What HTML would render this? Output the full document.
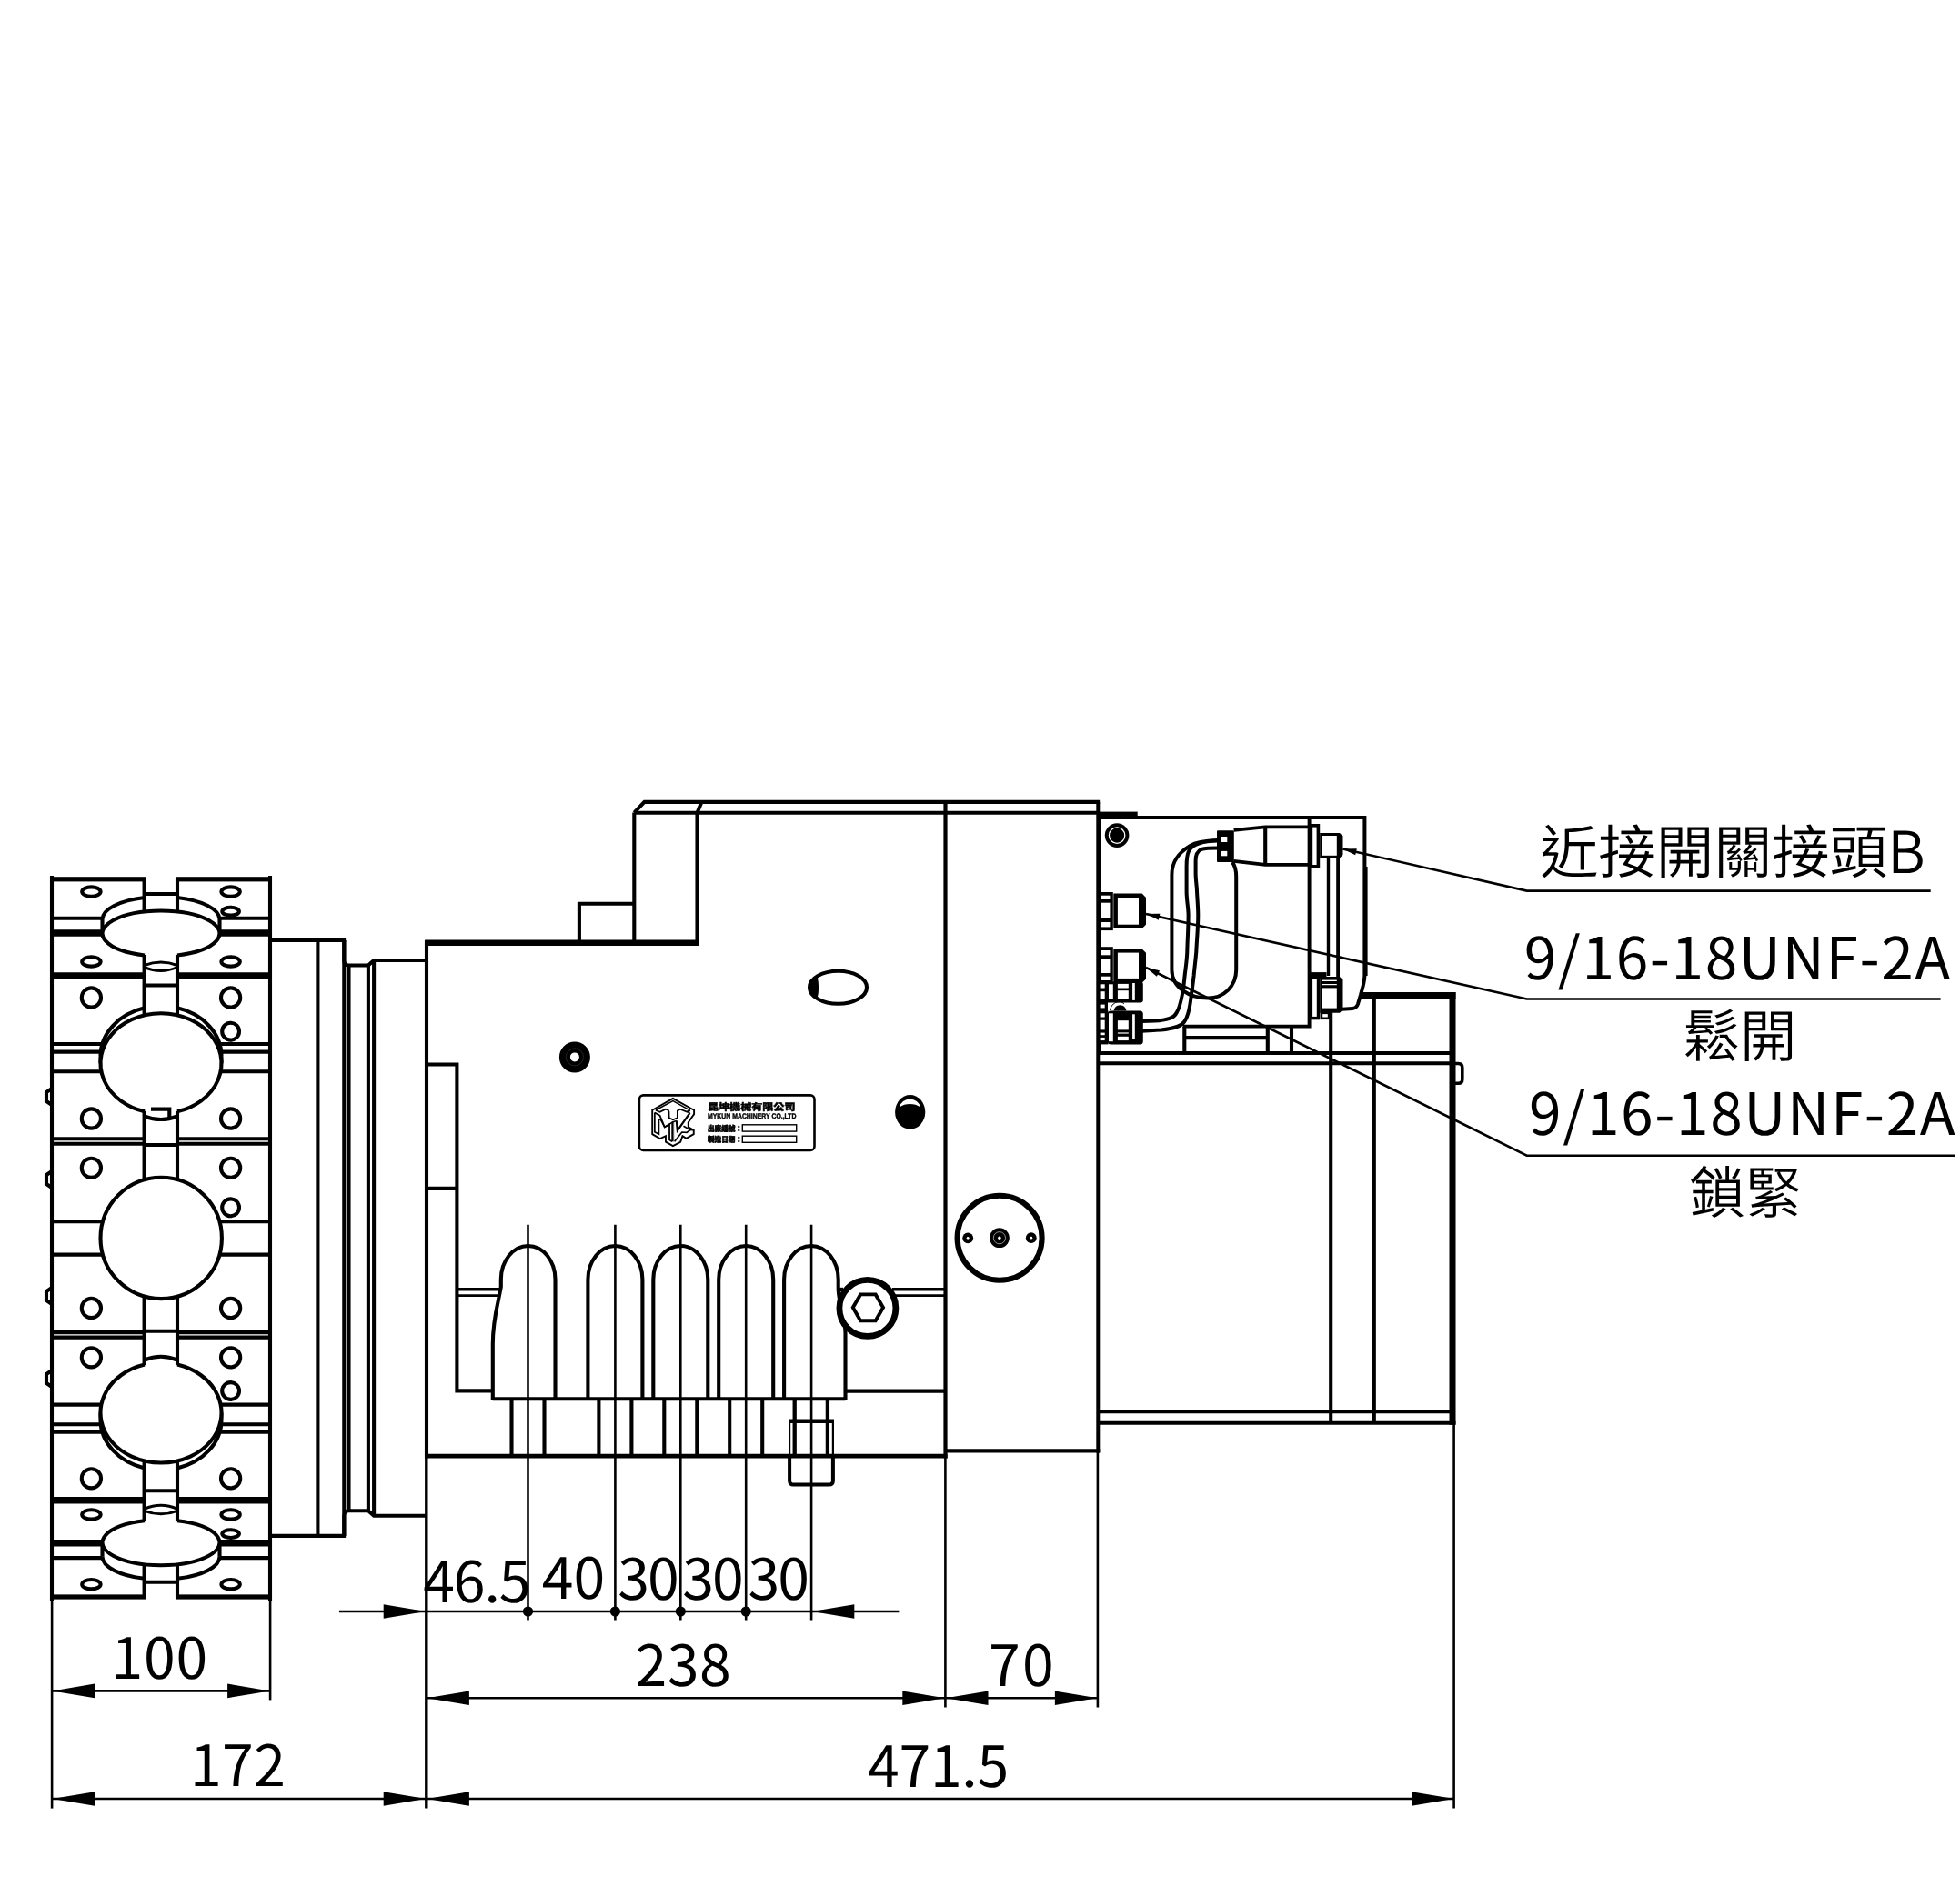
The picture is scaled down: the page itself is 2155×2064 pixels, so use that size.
<!DOCTYPE html>
<html lang="zh-Hant"><head><meta charset="utf-8"><title>drawing</title>
<style>
html,body{margin:0;padding:0;background:#fff}
body{width:2155px;height:2064px;overflow:hidden}
svg{display:block;will-change:transform}
svg text{text-rendering:geometricPrecision}
svg text{font-family:"Liberation Sans","Noto Sans CJK TC","Noto Sans CJK JP",sans-serif;fill:#000;stroke:none}
svg .cj{font-family:"Noto Sans CJK TC","Noto Sans CJK JP","Liberation Sans",sans-serif}
</style></head><body>
<svg width="2155" height="2064" viewBox="0 0 2155 2064" fill="none" stroke="#000" stroke-linejoin="miter">
<rect x="0" y="0" width="2155" height="2064" fill="#fff" stroke="none"/>
<g id="turret">
<line x1="57.0" y1="1009.7" x2="120" y2="1009.7" stroke-width="4.1" stroke-linecap="butt" />
<line x1="57.0" y1="1713.1" x2="120" y2="1713.1" stroke-width="4.1" stroke-linecap="butt" />
<line x1="234" y1="1009.7" x2="297.0" y2="1009.7" stroke-width="4.1" stroke-linecap="butt" />
<line x1="234" y1="1713.1" x2="297.0" y2="1713.1" stroke-width="4.1" stroke-linecap="butt" />
<line x1="57.0" y1="1026.0" x2="120" y2="1026.0" stroke-width="7.5" stroke-linecap="butt" />
<line x1="57.0" y1="1696.8" x2="120" y2="1696.8" stroke-width="7.5" stroke-linecap="butt" />
<line x1="234" y1="1026.0" x2="297.0" y2="1026.0" stroke-width="7.5" stroke-linecap="butt" />
<line x1="234" y1="1696.8" x2="297.0" y2="1696.8" stroke-width="7.5" stroke-linecap="butt" />
<line x1="57.0" y1="1073.0" x2="158.6" y2="1073.0" stroke-width="7.5" stroke-linecap="butt" />
<line x1="57.0" y1="1649.8" x2="158.6" y2="1649.8" stroke-width="7.5" stroke-linecap="butt" />
<line x1="195.0" y1="1073.0" x2="297.0" y2="1073.0" stroke-width="7.5" stroke-linecap="butt" />
<line x1="195.0" y1="1649.8" x2="297.0" y2="1649.8" stroke-width="7.5" stroke-linecap="butt" />
<line x1="57.0" y1="1148.0" x2="120" y2="1148.0" stroke-width="4.1" stroke-linecap="butt" />
<line x1="57.0" y1="1574.8" x2="120" y2="1574.8" stroke-width="4.1" stroke-linecap="butt" />
<line x1="234" y1="1148.0" x2="297.0" y2="1148.0" stroke-width="4.1" stroke-linecap="butt" />
<line x1="234" y1="1574.8" x2="297.0" y2="1574.8" stroke-width="4.1" stroke-linecap="butt" />
<line x1="57.0" y1="1156.6" x2="120" y2="1156.6" stroke-width="4.1" stroke-linecap="butt" />
<line x1="57.0" y1="1566.2" x2="120" y2="1566.2" stroke-width="4.1" stroke-linecap="butt" />
<line x1="234" y1="1156.6" x2="297.0" y2="1156.6" stroke-width="4.1" stroke-linecap="butt" />
<line x1="234" y1="1566.2" x2="297.0" y2="1566.2" stroke-width="4.1" stroke-linecap="butt" />
<line x1="57.0" y1="1178.2" x2="120" y2="1178.2" stroke-width="4.1" stroke-linecap="butt" />
<line x1="57.0" y1="1544.6" x2="120" y2="1544.6" stroke-width="4.1" stroke-linecap="butt" />
<line x1="234" y1="1178.2" x2="297.0" y2="1178.2" stroke-width="4.1" stroke-linecap="butt" />
<line x1="234" y1="1544.6" x2="297.0" y2="1544.6" stroke-width="4.1" stroke-linecap="butt" />
<line x1="57.0" y1="1252.2" x2="158.6" y2="1252.2" stroke-width="4.1" stroke-linecap="butt" />
<line x1="57.0" y1="1470.6" x2="158.6" y2="1470.6" stroke-width="4.1" stroke-linecap="butt" />
<line x1="195.0" y1="1252.2" x2="297.0" y2="1252.2" stroke-width="4.1" stroke-linecap="butt" />
<line x1="195.0" y1="1470.6" x2="297.0" y2="1470.6" stroke-width="4.1" stroke-linecap="butt" />
<line x1="57.0" y1="1257.7" x2="158.6" y2="1257.7" stroke-width="4.1" stroke-linecap="butt" />
<line x1="57.0" y1="1465.1" x2="158.6" y2="1465.1" stroke-width="4.1" stroke-linecap="butt" />
<line x1="195.0" y1="1257.7" x2="297.0" y2="1257.7" stroke-width="4.1" stroke-linecap="butt" />
<line x1="195.0" y1="1465.1" x2="297.0" y2="1465.1" stroke-width="4.1" stroke-linecap="butt" />
<line x1="57.0" y1="1343.2" x2="120" y2="1343.2" stroke-width="4.1" stroke-linecap="butt" />
<line x1="234" y1="1343.2" x2="297.0" y2="1343.2" stroke-width="4.1" stroke-linecap="butt" />
<line x1="57.0" y1="1379.6" x2="120" y2="1379.6" stroke-width="4.1" stroke-linecap="butt" />
<line x1="234" y1="1379.6" x2="297.0" y2="1379.6" stroke-width="4.1" stroke-linecap="butt" />
<line x1="57.0" y1="963" x2="57.0" y2="1760" stroke-width="4.1" stroke-linecap="butt" />
<line x1="297.0" y1="963" x2="297.0" y2="1760" stroke-width="4.1" stroke-linecap="butt" />
<rect x="55.15" y="964.2" width="105.29999999999998" height="5.2" rx="0" stroke-width="0" fill="#000" stroke="none"/>
<rect x="193.15" y="964.2" width="105.70000000000002" height="5.2" rx="0" stroke-width="0" fill="#000" stroke="none"/>
<rect x="55.15" y="1753.4" width="105.29999999999998" height="5.2" rx="0" stroke-width="0" fill="#000" stroke="none"/>
<rect x="193.15" y="1753.4" width="105.70000000000002" height="5.2" rx="0" stroke-width="0" fill="#000" stroke="none"/>
<ellipse cx="100.4" cy="980.6" rx="10.2" ry="5.2" stroke-width="4.1" fill="none"/>
<ellipse cx="100.4" cy="1742.2" rx="10.2" ry="5.2" stroke-width="4.1" fill="none"/>
<ellipse cx="100.4" cy="1057.4" rx="10.2" ry="5.2" stroke-width="4.1" fill="none"/>
<ellipse cx="100.4" cy="1665.4" rx="10.2" ry="5.2" stroke-width="4.1" fill="none"/>
<circle cx="100.4" cy="1097.0" r="10.6" stroke-width="4.1" fill="none"/>
<circle cx="100.4" cy="1625.8" r="10.6" stroke-width="4.1" fill="none"/>
<circle cx="100.4" cy="1230.0" r="10.6" stroke-width="4.1" fill="none"/>
<circle cx="100.4" cy="1492.8" r="10.6" stroke-width="4.1" fill="none"/>
<circle cx="100.4" cy="1284.3" r="10.6" stroke-width="4.1" fill="none"/>
<circle cx="100.4" cy="1438.5" r="10.6" stroke-width="4.1" fill="none"/>
<ellipse cx="253.6" cy="980.6" rx="10.2" ry="5.2" stroke-width="4.1" fill="none"/>
<ellipse cx="253.6" cy="1742.2" rx="10.2" ry="5.2" stroke-width="4.1" fill="none"/>
<ellipse cx="253.6" cy="1057.4" rx="10.2" ry="5.2" stroke-width="4.1" fill="none"/>
<ellipse cx="253.6" cy="1665.4" rx="10.2" ry="5.2" stroke-width="4.1" fill="none"/>
<circle cx="253.6" cy="1097.0" r="10.6" stroke-width="4.1" fill="none"/>
<circle cx="253.6" cy="1625.8" r="10.6" stroke-width="4.1" fill="none"/>
<circle cx="253.6" cy="1230.0" r="10.6" stroke-width="4.1" fill="none"/>
<circle cx="253.6" cy="1492.8" r="10.6" stroke-width="4.1" fill="none"/>
<circle cx="253.6" cy="1284.3" r="10.6" stroke-width="4.1" fill="none"/>
<circle cx="253.6" cy="1438.5" r="10.6" stroke-width="4.1" fill="none"/>
<ellipse cx="253.6" cy="1002.2" rx="9.3" ry="4.4" stroke-width="4.1" fill="none"/>
<ellipse cx="253.6" cy="1686.6" rx="9.3" ry="4.4" stroke-width="4.1" fill="none"/>
<circle cx="253.6" cy="1134.2" r="9.4" stroke-width="4.1" fill="none"/>
<circle cx="253.6" cy="1327.8" r="9.4" stroke-width="4.1" fill="none"/>
<circle cx="253.6" cy="1529.5" r="9.4" stroke-width="4.1" fill="none"/>
<ellipse cx="177" cy="1011.0" rx="64.5" ry="25" stroke-width="0" fill="#fff"/>
<rect x="112.5" y="1011.0" width="129.0" height="15.5" rx="0" stroke-width="0" fill="#fff" stroke="none"/>
<path d="M112.5 1011.0 A64.5 25 0 0 1 159.00 986.99" stroke-width="4.1" fill="none" />
<path d="M241.5 1011.0 A64.5 25 0 0 0 195.00 986.99" stroke-width="4.1" fill="none" />
<line x1="112.5" y1="1011.0" x2="112.5" y2="1026.5" stroke-width="4.1" stroke-linecap="butt" />
<line x1="241.5" y1="1011.0" x2="241.5" y2="1026.5" stroke-width="4.1" stroke-linecap="butt" />
<ellipse cx="177" cy="1026.5" rx="64.5" ry="25" fill="#fff" stroke="none"/>
<path d="M159.00 1050.51 A64.5 25 0 1 1 195.00 1050.51" stroke-width="4.1" fill="none" />
<ellipse cx="177" cy="1161.3" rx="66.5" ry="55" stroke-width="0" fill="#fff"/>
<rect x="110.5" y="1161.3" width="133.0" height="8.0" rx="0" stroke-width="0" fill="#fff" stroke="none"/>
<path d="M110.5 1161.3 A66.5 55 0 0 1 159.00 1108.35" stroke-width="4.1" fill="none" />
<path d="M243.5 1161.3 A66.5 55 0 0 0 195.00 1108.35" stroke-width="4.1" fill="none" />
<line x1="110.5" y1="1161.3" x2="110.5" y2="1169.3" stroke-width="4.1" stroke-linecap="butt" />
<line x1="243.5" y1="1161.3" x2="243.5" y2="1169.3" stroke-width="4.1" stroke-linecap="butt" />
<ellipse cx="177" cy="1169.3" rx="66.5" ry="55" fill="#fff" stroke="none"/>
<path d="M159.00 1222.25 A66.5 55 0 1 1 195.00 1222.25" stroke-width="4.1" fill="none" />
<ellipse cx="177" cy="1711.8" rx="64.5" ry="25" stroke-width="0" fill="#fff"/>
<rect x="112.5" y="1696.3" width="129.0" height="15.5" rx="0" stroke-width="0" fill="#fff" stroke="none"/>
<path d="M112.5 1711.8 A64.5 25 0 0 0 159.00 1735.81" stroke-width="4.1" fill="none" />
<path d="M241.5 1711.8 A64.5 25 0 0 1 195.00 1735.81" stroke-width="4.1" fill="none" />
<line x1="112.5" y1="1711.8" x2="112.5" y2="1696.3" stroke-width="4.1" stroke-linecap="butt" />
<line x1="241.5" y1="1711.8" x2="241.5" y2="1696.3" stroke-width="4.1" stroke-linecap="butt" />
<ellipse cx="177" cy="1696.3" rx="64.5" ry="25" fill="#fff" stroke="none"/>
<path d="M159.00 1672.29 A64.5 25 0 1 0 195.00 1672.29" stroke-width="4.1" fill="none" />
<ellipse cx="177" cy="1561.5" rx="66.5" ry="55" stroke-width="0" fill="#fff"/>
<rect x="110.5" y="1553.5" width="133.0" height="8.0" rx="0" stroke-width="0" fill="#fff" stroke="none"/>
<path d="M110.5 1561.5 A66.5 55 0 0 0 159.00 1614.45" stroke-width="4.1" fill="none" />
<path d="M243.5 1561.5 A66.5 55 0 0 1 195.00 1614.45" stroke-width="4.1" fill="none" />
<line x1="110.5" y1="1561.5" x2="110.5" y2="1553.5" stroke-width="4.1" stroke-linecap="butt" />
<line x1="243.5" y1="1561.5" x2="243.5" y2="1553.5" stroke-width="4.1" stroke-linecap="butt" />
<ellipse cx="177" cy="1553.5" rx="66.5" ry="55" fill="#fff" stroke="none"/>
<path d="M159.00 1500.55 A66.5 55 0 1 0 195.00 1500.55" stroke-width="4.1" fill="none" />
<circle cx="177.2" cy="1361.4" r="66.7" stroke-width="4.1" fill="#fff"/>
<line x1="158.6" y1="965" x2="158.6" y2="1003.4932292766714" stroke-width="4.1" stroke-linecap="butt" />
<line x1="158.6" y1="1719.31" x2="158.6" y2="1757.8" stroke-width="4.1" stroke-linecap="butt" />
<line x1="158.6" y1="1050.0067707233286" x2="158.6" y2="1117.3531328700435" stroke-width="4.1" stroke-linecap="butt" />
<line x1="158.6" y1="1605.45" x2="158.6" y2="1672.79" stroke-width="4.1" stroke-linecap="butt" />
<line x1="158.6" y1="1221.7468671299564" x2="158.6" y2="1298.231082290567" stroke-width="4.1" stroke-linecap="butt" />
<line x1="158.6" y1="1424.57" x2="158.6" y2="1501.05" stroke-width="4.1" stroke-linecap="butt" />
<line x1="195.0" y1="965" x2="195.0" y2="1003.4932292766714" stroke-width="4.1" stroke-linecap="butt" />
<line x1="195.0" y1="1719.31" x2="195.0" y2="1757.8" stroke-width="4.1" stroke-linecap="butt" />
<line x1="195.0" y1="1050.0067707233286" x2="195.0" y2="1117.3531328700435" stroke-width="4.1" stroke-linecap="butt" />
<line x1="195.0" y1="1605.45" x2="195.0" y2="1672.79" stroke-width="4.1" stroke-linecap="butt" />
<line x1="195.0" y1="1221.7468671299564" x2="195.0" y2="1298.231082290567" stroke-width="4.1" stroke-linecap="butt" />
<line x1="195.0" y1="1424.57" x2="195.0" y2="1501.05" stroke-width="4.1" stroke-linecap="butt" />
<line x1="158.6" y1="983.0" x2="195.0" y2="983.0" stroke-width="4.1" stroke-linecap="butt" />
<line x1="158.6" y1="1739.8" x2="195.0" y2="1739.8" stroke-width="4.1" stroke-linecap="butt" />
<line x1="158.6" y1="1083.5" x2="195.0" y2="1083.5" stroke-width="4.1" stroke-linecap="butt" />
<line x1="158.6" y1="1639.3" x2="195.0" y2="1639.3" stroke-width="4.1" stroke-linecap="butt" />
<line x1="158.6" y1="1259.0" x2="195.0" y2="1259.0" stroke-width="4.1" stroke-linecap="butt" />
<line x1="158.6" y1="1463.8" x2="195.0" y2="1463.8" stroke-width="4.1" stroke-linecap="butt" />
<path d="M158.6 1061.5 Q177 1054.5 195.0 1061.5" stroke-width="3.0" fill="none" />
<path d="M158.6 1063.5 Q177 1071.5 195.0 1063.5" stroke-width="3.0" fill="none" />
<path d="M158.6 1227.3 Q177 1234.8 195.0 1227.3" stroke-width="4.1" fill="none" />
<path d="M158.6 1661.3 Q177 1668.3 195.0 1661.3" stroke-width="3.0" fill="none" />
<path d="M158.6 1659.3 Q177 1651.3 195.0 1659.3" stroke-width="3.0" fill="none" />
<path d="M158.6 1495.5 Q177 1488.0 195.0 1495.5" stroke-width="4.1" fill="none" />
<path d="M166 1219.6 H186.3 V1229" stroke-width="4.1" fill="none" />
<path d="M57.0 1197 L51 1201 V1211 L57.0 1215" stroke-width="4.1" fill="none" />
<path d="M57.0 1288 L51 1292 V1302 L57.0 1306" stroke-width="4.1" fill="none" />
<path d="M57.0 1416 L51 1420 V1430 L57.0 1434" stroke-width="4.1" fill="none" />
<path d="M57.0 1507 L51 1511 V1521 L57.0 1525" stroke-width="4.1" fill="none" />
</g>
<g id="flange">
<line x1="297.0" y1="1034.0" x2="380.15" y2="1034.0" stroke-width="4.2" stroke-linecap="butt" />
<line x1="297.0" y1="1688.8" x2="380.15" y2="1688.8" stroke-width="4.2" stroke-linecap="butt" />
<line x1="349.4" y1="1034" x2="349.4" y2="1688.8" stroke-width="4.1" stroke-linecap="butt" />
<path d="M378.3 1034 V1056 Q378.3 1061.5 383.5 1061.5 H404.9 L411.1 1056 H469" stroke-width="4.1" fill="none" />
<path d="M378.3 1688.8 V1666.8 Q378.3 1661.3 383.5 1661.3 H404.9 L411.1 1666.8 H469" stroke-width="4.1" fill="none" />
<line x1="378.3" y1="1034" x2="378.3" y2="1688.8" stroke-width="4.1" stroke-linecap="butt" />
<line x1="383.5" y1="1061.5" x2="383.5" y2="1661.3" stroke-width="4.1" stroke-linecap="butt" />
<line x1="404.9" y1="1061.5" x2="404.9" y2="1661.3" stroke-width="4.1" stroke-linecap="butt" />
<line x1="411.1" y1="1056" x2="411.1" y2="1666.8" stroke-width="4.1" stroke-linecap="butt" />
</g>
<g id="body">
<line x1="469.0" y1="1034" x2="469.0" y2="1603.5" stroke-width="4.1" stroke-linecap="butt" />
<line x1="467.15" y1="1036.8" x2="768.3" y2="1036.8" stroke-width="6.4" stroke-linecap="butt" />
<path d="M636.9 1036.8 V993.8 H697.3" stroke-width="4.1" fill="none" />
<line x1="697.3" y1="893.6" x2="697.3" y2="1036.8" stroke-width="4.1" stroke-linecap="butt" />
<line x1="766.5" y1="893.6" x2="766.5" y2="1038" stroke-width="4.1" stroke-linecap="butt" />
<path d="M697.3 893.7 L708.5 881.9 H1209.1499999999999" stroke-width="4.1" fill="none" />
<line x1="697.3" y1="893.7" x2="1207.3" y2="893.7" stroke-width="4.1" stroke-linecap="butt" />
<line x1="766.5" y1="893.7" x2="771.4" y2="881.9" stroke-width="4.1" stroke-linecap="butt" />
<line x1="1039.5" y1="881.9" x2="1039.5" y2="1603.5" stroke-width="4.2" stroke-linecap="butt" />
<line x1="1207.3" y1="881.9" x2="1207.3" y2="1597.5" stroke-width="4.0" stroke-linecap="butt" />
<line x1="467.15" y1="1601.2" x2="1041.6" y2="1601.2" stroke-width="4.8" stroke-linecap="butt" />
<line x1="1039.5" y1="1595.4" x2="1209.3" y2="1595.4" stroke-width="4.4" stroke-linecap="butt" />
<path d="M469 1170.5 H502.4 V1529.4 H541.8" stroke-width="4.1" fill="none" />
<line x1="469.0" y1="1306.9" x2="502.4" y2="1306.9" stroke-width="4.1" stroke-linecap="butt" />
<line x1="502.4" y1="1417.8" x2="551" y2="1417.8" stroke-width="3.6" stroke-linecap="butt" />
<line x1="502.4" y1="1424.7" x2="549.5" y2="1424.7" stroke-width="2.8" stroke-linecap="butt" />
<path d="M541.8 1540 V1478 C541.8 1450 548 1432 550.8 1415 V1407 A29.85 37 0 0 1 610.5 1407 V1538" stroke-width="4.1" fill="none" />
<path d="M646.4 1538 V1407 A30 37 0 0 1 706.4 1407 V1538" stroke-width="4.1" fill="none" />
<path d="M718.3 1538 V1407 A30 37 0 0 1 778.3 1407 V1538" stroke-width="4.1" fill="none" />
<path d="M790.2 1538 V1407 A30 37 0 0 1 850.2 1407 V1538" stroke-width="4.1" fill="none" />
<path d="M862.1 1538 V1407 A29.8 37 0 0 1 921.7 1407 V1418 C922.5 1436 929.5 1448 929.5 1466 V1540" stroke-width="4.1" fill="none" />
<line x1="541.8" y1="1538.2" x2="929.5" y2="1538.2" stroke-width="4.1" stroke-linecap="butt" />
<line x1="562.5" y1="1538" x2="562.5" y2="1601" stroke-width="4.1" stroke-linecap="butt" />
<line x1="598.5" y1="1538" x2="598.5" y2="1601" stroke-width="4.1" stroke-linecap="butt" />
<line x1="658.4" y1="1538" x2="658.4" y2="1601" stroke-width="4.1" stroke-linecap="butt" />
<line x1="694.4" y1="1538" x2="694.4" y2="1601" stroke-width="4.1" stroke-linecap="butt" />
<line x1="730.3" y1="1538" x2="730.3" y2="1601" stroke-width="4.1" stroke-linecap="butt" />
<line x1="766.3" y1="1538" x2="766.3" y2="1601" stroke-width="4.1" stroke-linecap="butt" />
<line x1="802.2" y1="1538" x2="802.2" y2="1601" stroke-width="4.1" stroke-linecap="butt" />
<line x1="838.2" y1="1538" x2="838.2" y2="1601" stroke-width="4.1" stroke-linecap="butt" />
<path d="M873.7 1538 V1601 M909.9 1538 V1601" stroke-width="4.3" fill="none" />
<line x1="868.1" y1="1562.7" x2="868.1" y2="1601" stroke-width="2.2" stroke-linecap="butt" />
<line x1="915.9" y1="1562.7" x2="915.9" y2="1601" stroke-width="2.2" stroke-linecap="butt" />
<line x1="867" y1="1562.7" x2="917" y2="1562.7" stroke-width="4.4" stroke-linecap="butt" />
<path d="M868.1 1600 V1628 Q868.1 1632.6 872.6 1632.6 H911.4 Q915.9 1632.6 915.9 1628 V1600" stroke-width="4.0" fill="none" />
<line x1="929.5" y1="1529.6" x2="1039.5" y2="1529.6" stroke-width="4.1" stroke-linecap="butt" />
<line x1="981" y1="1417.8" x2="1039.5" y2="1417.8" stroke-width="3.6" stroke-linecap="butt" />
<line x1="984" y1="1424.7" x2="1039.5" y2="1424.7" stroke-width="2.8" stroke-linecap="butt" />
<line x1="921.7" y1="1418.0" x2="927" y2="1418.0" stroke-width="4.4" stroke-linecap="butt" />
<circle cx="953.9" cy="1438.4" r="31.0" stroke-width="6.8" fill="#fff"/>
<polygon points="971.00,1437.80 962.70,1452.18 946.10,1452.18 937.80,1437.80 946.10,1423.42 962.70,1423.42" stroke-width="3.9" fill="none"/>
<line x1="580.5" y1="1346.8" x2="580.5" y2="1781.4" stroke-width="2.6" stroke-linecap="butt" />
<line x1="676.4" y1="1346.8" x2="676.4" y2="1781.4" stroke-width="2.6" stroke-linecap="butt" />
<line x1="748.3" y1="1346.8" x2="748.3" y2="1781.4" stroke-width="2.6" stroke-linecap="butt" />
<line x1="820.2" y1="1346.8" x2="820.2" y2="1781.4" stroke-width="2.6" stroke-linecap="butt" />
<line x1="892.1" y1="1346.8" x2="892.1" y2="1781.4" stroke-width="2.6" stroke-linecap="butt" />
<ellipse cx="921.5" cy="1085.8" rx="31.5" ry="18.0" stroke-width="4.1" fill="none"/>
<path d="M898.6 1073.4 A31.5 18 0 0 0 898.6 1098.2 Q901.6 1085.8 898.6 1073.4 Z" stroke-width="0" fill="#000" />
<ellipse cx="1000.7" cy="1222.9" rx="16.6" ry="18.8" stroke-width="0" fill="#000"/>
<path d="M988.8 1217.5 A12 12 0 0 1 1012.1 1217.5 A21.7 21.7 0 0 0 988.8 1217.5 Z" stroke-width="0" fill="#fff" />
<circle cx="631.9" cy="1162.4" r="11.0" stroke-width="12.0" fill="none"/>
<circle cx="631.9" cy="1162.4" r="9.6" stroke-width="0.7" fill="none" stroke="#333"/>
<circle cx="1099.1" cy="1361.2" r="46.5" stroke-width="6.1" fill="none"/>
<circle cx="1098.9" cy="1361.2" r="10.9" stroke-width="0" fill="#000"/>
<circle cx="1098.9" cy="1361.2" r="1.7" stroke-width="0" fill="#fff"/>
<circle cx="1098.9" cy="1361.2" r="6.6" stroke-width="0.7" fill="none" stroke="#ccc"/>
<circle cx="1064.2" cy="1361.3" r="5.9" stroke-width="0" fill="#000"/>
<circle cx="1133.8" cy="1361.2" r="5.9" stroke-width="0" fill="#000"/>
<circle cx="1064.2" cy="1361.3" r="1.4" stroke-width="0" fill="#fff"/>
<circle cx="1133.8" cy="1361.2" r="1.4" stroke-width="0" fill="#fff"/>
</g>
<g id="motor">
<line x1="1496" y1="1094.5" x2="1600.5" y2="1094.5" stroke-width="7.0" stroke-linecap="butt" />
<line x1="1597.0" y1="1091" x2="1597.0" y2="1566.7" stroke-width="7.0" stroke-linecap="butt" />
<line x1="1207.3" y1="1158.0" x2="1597.0" y2="1158.0" stroke-width="4.1" stroke-linecap="butt" />
<line x1="1207.3" y1="1169.3" x2="1597.0" y2="1169.3" stroke-width="4.1" stroke-linecap="butt" />
<line x1="1207.3" y1="1552.3" x2="1597.0" y2="1552.3" stroke-width="4.1" stroke-linecap="butt" />
<line x1="1207.3" y1="1564.7" x2="1600.5" y2="1564.7" stroke-width="4.1" stroke-linecap="butt" />
<line x1="1463.2" y1="1113" x2="1463.2" y2="1564.7" stroke-width="4.1" stroke-linecap="butt" />
<line x1="1510.8" y1="1094.5" x2="1510.8" y2="1564.7" stroke-width="4.1" stroke-linecap="butt" />
<path d="M1600 1169.5 H1603.5 Q1607.8 1169.5 1607.8 1174 V1187 Q1607.8 1191.3 1603.5 1191.3 H1600" stroke-width="3.6" fill="none" />
</g>
<g id="housing">
<rect x="1207" y="892.6" width="43.7" height="8.2" rx="0" stroke-width="0" fill="#000" stroke="none"/>
<path d="M1207 899 H1500.4 V1073 C1500 1082 1497.5 1088 1496 1094 L1493 1104 Q1491.5 1108.6 1487 1109 L1472 1110" stroke-width="4.0" fill="none" />
<line x1="1502.2" y1="953" x2="1502.2" y2="1073" stroke-width="2.8" stroke-linecap="butt" />
<path d="M1439.6 899 V1128.6 H1300.5" stroke-width="3.9" fill="none" />
<line x1="1302.3" y1="1129" x2="1302.3" y2="1158" stroke-width="4.1" stroke-linecap="butt" />
<line x1="1393.8" y1="1129" x2="1393.8" y2="1158" stroke-width="4.1" stroke-linecap="butt" />
<line x1="1420.0" y1="1129" x2="1420.0" y2="1158" stroke-width="4.1" stroke-linecap="butt" />
<line x1="1302.3" y1="1141.1" x2="1393.8" y2="1141.1" stroke-width="4.1" stroke-linecap="butt" />
<circle cx="1228.1" cy="918.6" r="13.3" stroke-width="0" fill="#000"/>
<circle cx="1228.1" cy="918.6" r="8.7" stroke-width="1.3" fill="none" stroke="#fff"/>
<rect x="1338.0" y="913.3" width="18.8" height="34.6" rx="1" stroke-width="0" fill="#000" stroke="none"/>
<rect x="1342.0" y="920.0" width="7.3" height="6.0" rx="0" stroke-width="0" fill="#fff" stroke="none"/>
<rect x="1342.0" y="935.9" width="7.3" height="5.4" rx="0" stroke-width="0" fill="#fff" stroke="none"/>
<path d="M1356.6 912.8 L1391.2 909.4 H1439.6 M1356.6 946.8 L1391.2 950.8 H1439.6" stroke-width="3.8" fill="none" />
<line x1="1391.2" y1="909.4" x2="1391.2" y2="950.8" stroke-width="4.1" stroke-linecap="butt" />
<rect x="1441.4" y="907.8" width="8.0" height="45.00000000000002" rx="0" stroke-width="3.6" fill="#fff"/>
<polygon points="1451.2,916.0 1473.0,916.0 1476.5,919.5 1476.5,940.1 1473.0,943.6 1451.2,943.6" fill="#000" stroke="none"/>
<rect x="1453.0" y="919.0" width="16.8" height="21.8" rx="0" stroke-width="0" fill="#fff" stroke="none"/>
<line x1="1460.5" y1="943" x2="1460.5" y2="1073" stroke-width="3.4" stroke-linecap="butt" />
<line x1="1471.1" y1="943" x2="1471.1" y2="1075" stroke-width="3.8" stroke-linecap="butt" />
<rect x="1440.5" y="1069.1" width="18.0" height="6.6" rx="0" stroke-width="0" fill="#000" stroke="none"/>
<rect x="1441.4" y="1075" width="8.099999999999909" height="44.59999999999991" rx="0" stroke-width="3.4" fill="#fff"/>
<polygon points="1451.2,1074.0 1473.0,1074.0 1476.5,1077.5 1476.5,1110.3 1473.0,1113.8 1451.2,1113.8" fill="#000" stroke="none"/>
<rect x="1453.0" y="1086.4" width="16.8" height="22.2" rx="0" stroke-width="0" fill="#fff" stroke="none"/>
<rect x="1453.0" y="1077.6" width="16.8" height="1.4" rx="0" stroke-width="0" fill="#fff" stroke="none"/>
<rect x="1453.0" y="1082.0" width="16.8" height="1.2" rx="0" stroke-width="0" fill="#fff" stroke="none"/>
<rect x="1452.9" y="1113.8" width="8.2" height="6.0" rx="0" stroke-width="2.6" fill="#fff"/>
<path d="M1338.5 924 C1325 924.5 1315 926 1308.6 930 C1297 937 1288.4 946 1288.4 962 V1066.5 C1288.4 1086 1308 1097.5 1328 1097.5 C1346 1097.5 1359.2 1084 1359.2 1066.5 V964 C1359.2 956 1357.5 951.5 1355 948" stroke-width="4.0" fill="none" />
<path d="M1338.5 924.6 C1322 925 1312 928 1307.5 935 C1304.6 940 1304.6 947 1304.6 953 L1304.6 980 C1304.6 990 1306.6 998 1306.6 1006.5 C1306.6 1020 1305.5 1035 1305.3 1046.5 C1305 1056 1303.5 1065 1302.6 1073 C1302 1080 1301 1087 1300 1093 C1298.5 1101 1297 1108 1294 1113 C1292 1117 1289 1119 1286 1119.8 C1281 1121.5 1275 1122.2 1270 1122.4 L1255.3 1123" stroke-width="4.0" fill="none" />
<path d="M1338.5 932.6 C1330 932.6 1324 933.2 1320.6 934 C1316.5 936 1314.6 941 1314.6 946.6 L1314.6 960 C1314.6 968 1316 975 1316 980 C1316.5 990 1317.3 998 1317.3 1006.5 C1317.3 1020 1315.8 1035 1315.3 1046.5 C1314.5 1056 1313.3 1065 1312.6 1073 C1311.8 1080 1311 1087 1310 1093 C1309.3 1099 1308.5 1105 1307.3 1110.4 C1306 1116 1304.5 1120.5 1302 1123.8 C1300 1126.5 1297.5 1128 1294 1129 C1289 1130.8 1283 1131.8 1276.6 1132.4 L1255.3 1133.8" stroke-width="4.0" fill="none" />
<line x1="1209.0" y1="897" x2="1209.0" y2="1158" stroke-width="3.8" stroke-linecap="butt" />
<rect x="1208.9" y="981.0" width="14.9" height="42.1" rx="0" stroke-width="0" fill="#000" stroke="none"/>
<rect x="1211" y="984.7" width="9.4" height="4.3" rx="0" stroke-width="0" fill="#fff" stroke="none"/>
<rect x="1211" y="992.7" width="9.4" height="16.5" rx="0" stroke-width="0" fill="#fff" stroke="none"/>
<rect x="1211" y="1014.0" width="9.4" height="5.4" rx="0" stroke-width="0" fill="#fff" stroke="none"/>
<polygon points="1224.3,982.6 1255.7,982.6 1260,986.9 1260,1016.7 1255.7,1021.0 1224.3,1021.0" fill="#000" stroke="none"/>
<rect x="1228.9" y="987.2" width="23.1" height="29.5" rx="0" stroke-width="0" fill="#fff" stroke="none"/>
<rect x="1208.9" y="1041.2" width="14.9" height="38.8" rx="0" stroke-width="0" fill="#000" stroke="none"/>
<rect x="1211" y="1045.0" width="9.4" height="5.3" rx="0" stroke-width="0" fill="#fff" stroke="none"/>
<rect x="1211" y="1054.6" width="9.4" height="15.4" rx="0" stroke-width="0" fill="#fff" stroke="none"/>
<rect x="1211" y="1073.7" width="9.4" height="4.3" rx="0" stroke-width="0" fill="#fff" stroke="none"/>
<polygon points="1224.3,1043.4 1255.7,1043.4 1260,1047.7 1260,1076.4 1255.7,1080.7 1224.3,1080.7" fill="#000" stroke="none"/>
<rect x="1228.9" y="1047.6" width="23.1" height="28.3" rx="0" stroke-width="0" fill="#fff" stroke="none"/>
<rect x="1208.9" y="1079.5" width="47.9" height="23.0" rx="3" stroke-width="0" fill="#000" stroke="none"/>
<rect x="1209.6" y="1082.3" width="5.1" height="4.2" rx="0" stroke-width="0" fill="#fff" stroke="none"/>
<rect x="1209.6" y="1090.2" width="5.1" height="8.1" rx="0" stroke-width="0" fill="#fff" stroke="none"/>
<rect x="1219.0" y="1082.3" width="4.8" height="16.0" rx="0" stroke-width="0" fill="#fff" stroke="none"/>
<rect x="1228.9" y="1081.9" width="11.9" height="4.6" rx="0" stroke-width="0" fill="#fff" stroke="none"/>
<rect x="1228.9" y="1089.2" width="11.9" height="9.1" rx="0" stroke-width="0" fill="#fff" stroke="none"/>
<rect x="1245.1" y="1081.0" width="2.7" height="18.9" rx="0" stroke-width="0" fill="#fff" stroke="none"/>
<rect x="1208.9" y="1102" width="9.1" height="10" rx="0" stroke-width="0" fill="#000" stroke="none"/>
<rect x="1209.6" y="1104.6" width="5.1" height="3.8" rx="0" stroke-width="0" fill="#fff" stroke="none"/>
<path d="M1224.5 1111.5 A7.2 8 0 0 1 1238.5 1111.5 Z" stroke-width="0" fill="#000" />
<path d="M1220.6 1111 A9.8 10.5 0 0 1 1236 1103.6" stroke-width="1.0" fill="none" stroke="#000"/>
<rect x="1208.9" y="1111.6" width="9.6" height="36.8" rx="0" stroke-width="0" fill="#000" stroke="none"/>
<rect x="1217.9" y="1111.6" width="38.9" height="36.8" rx="3.5" stroke-width="0" fill="#000" stroke="none"/>
<rect x="1209.6" y="1114.3" width="5.1" height="4.2" rx="0" stroke-width="0" fill="#fff" stroke="none"/>
<rect x="1209.6" y="1121.7" width="5.1" height="10.7" rx="0" stroke-width="0" fill="#fff" stroke="none"/>
<rect x="1209.6" y="1135.6" width="5.1" height="2.6" rx="0" stroke-width="0" fill="#fff" stroke="none"/>
<rect x="1209.6" y="1140.9" width="5.1" height="3.2" rx="0" stroke-width="0" fill="#fff" stroke="none"/>
<rect x="1219.0" y="1114.3" width="4.8" height="30.9" rx="0" stroke-width="0" fill="#fff" stroke="none"/>
<rect x="1228.9" y="1122.2" width="11.9" height="10.2" rx="0" stroke-width="0" fill="#fff" stroke="none"/>
<rect x="1228.9" y="1135.4" width="11.9" height="1.2" rx="0" stroke-width="0" fill="#fff" stroke="none"/>
<rect x="1228.9" y="1139.8" width="11.9" height="4.3" rx="0" stroke-width="0" fill="#fff" stroke="none"/>
<rect x="1245.1" y="1115.3" width="2.7" height="27.7" rx="0" stroke-width="0" fill="#fff" stroke="none"/>
</g>
<g id="dims">
<line x1="57.1" y1="1758" x2="57.1" y2="1988.6" stroke-width="2.6" stroke-linecap="butt" />
<line x1="297.1" y1="1758" x2="297.1" y2="1869.4" stroke-width="2.6" stroke-linecap="butt" />
<line x1="468.8" y1="1603" x2="468.8" y2="1988.6" stroke-width="3.4" stroke-linecap="butt" />
<line x1="1039.4" y1="1603" x2="1039.4" y2="1877.5" stroke-width="2.6" stroke-linecap="butt" />
<line x1="1206.9" y1="1596" x2="1206.9" y2="1877.5" stroke-width="2.6" stroke-linecap="butt" />
<line x1="1598.6" y1="1566" x2="1598.6" y2="1988.4" stroke-width="2.6" stroke-linecap="butt" />
<line x1="57" y1="1859.4" x2="297" y2="1859.4" stroke-width="2.6" stroke-linecap="butt" />
<polygon points="57.6,1859.4 104.1,1851.6000000000001 104.1,1867.2" fill="#000" stroke="none"/>
<polygon points="296.6,1859.4 250.10000000000002,1851.6000000000001 250.10000000000002,1867.2" fill="#000" stroke="none"/>
<line x1="57" y1="1978.0" x2="468.6" y2="1978.0" stroke-width="2.6" stroke-linecap="butt" />
<polygon points="57.6,1978 104.1,1970.2 104.1,1985.8" fill="#000" stroke="none"/>
<polygon points="468.2,1978 421.7,1970.2 421.7,1985.8" fill="#000" stroke="none"/>
<line x1="468.6" y1="1978.0" x2="1599" y2="1978.0" stroke-width="2.6" stroke-linecap="butt" />
<polygon points="469.4,1978 515.9,1970.2 515.9,1985.8" fill="#000" stroke="none"/>
<polygon points="1598.6,1978 1552.1,1970.2 1552.1,1985.8" fill="#000" stroke="none"/>
<line x1="468.6" y1="1867.2" x2="1207" y2="1867.2" stroke-width="2.6" stroke-linecap="butt" />
<polygon points="469.4,1867.2 515.9,1859.4 515.9,1875.0" fill="#000" stroke="none"/>
<polygon points="1038.8,1867.2 992.3,1859.4 992.3,1875.0" fill="#000" stroke="none"/>
<polygon points="1040,1867.2 1086.5,1859.4 1086.5,1875.0" fill="#000" stroke="none"/>
<polygon points="1206.4,1867.2 1159.9,1859.4 1159.9,1875.0" fill="#000" stroke="none"/>
<line x1="372.9" y1="1772.0" x2="988.4" y2="1772.0" stroke-width="2.6" stroke-linecap="butt" />
<polygon points="468.2,1772 421.7,1764.2 421.7,1779.8" fill="#000" stroke="none"/>
<polygon points="892.8,1772 939.3,1764.2 939.3,1779.8" fill="#000" stroke="none"/>
<circle cx="580.5" cy="1772" r="5.6" stroke-width="0" fill="#000"/>
<circle cx="676.4" cy="1772" r="5.6" stroke-width="0" fill="#000"/>
<circle cx="748.3" cy="1772" r="5.6" stroke-width="0" fill="#000"/>
<circle cx="820.2" cy="1772" r="5.6" stroke-width="0" fill="#000"/>
<text class="cj" x="122.6" y="1845.7" font-size="62.5" font-weight="400" text-anchor="start" letter-spacing="0.75" >100</text>
<text class="cj" x="208.9" y="1964.3" font-size="62.5" font-weight="400" text-anchor="start" letter-spacing="0.5" >172</text>
<text class="cj" x="954.0" y="1965.0" font-size="62.5" font-weight="400" text-anchor="start" letter-spacing="-0.25" >471.5</text>
<text class="cj" x="698.4" y="1854.3" font-size="62.5" font-weight="400" text-anchor="start" letter-spacing="0.6" >238</text>
<text class="cj" x="1087.0" y="1854.3" font-size="62.5" font-weight="400" text-anchor="start" letter-spacing="2.4" >70</text>
<text class="cj" x="465.2" y="1762.3" font-size="62.5" font-weight="400" text-anchor="start" letter-spacing="-1.03" >46.5</text>
<text class="cj" x="595.7" y="1758.2" font-size="62.5" font-weight="400" text-anchor="start" >40</text>
<text class="cj" x="679.2" y="1758.6" font-size="62.5" font-weight="400" text-anchor="start" letter-spacing="-2" >30</text>
<text class="cj" x="750.3" y="1758.6" font-size="62.5" font-weight="400" text-anchor="start" letter-spacing="-2" >30</text>
<text class="cj" x="822.5" y="1758.6" font-size="62.5" font-weight="400" text-anchor="start" letter-spacing="-2" >30</text>
</g>
<g id="labels">
<path d="M1476.4 933.4 L1678.7 979.6 H2122.7" stroke-width="2.6" fill="none" />
<polygon points="1476.4,933.4 1490.22,940.25 1491.83,933.23" fill="#000" stroke="none"/>
<path d="M1260.0 1004.9 L1678.7 1098.5 H2133.6" stroke-width="2.6" fill="none" />
<polygon points="1260.0,1004.9 1273.85,1011.69 1275.42,1004.66" fill="#000" stroke="none"/>
<path d="M1260.0 1063.8 L1678.7 1270.7 H2149.6" stroke-width="2.6" fill="none" />
<polygon points="1260.0,1063.8 1271.85,1073.67 1275.04,1067.22" fill="#000" stroke="none"/>
<text class="cj" x="1693.6" y="959.8" font-size="63.6" font-weight="350" text-anchor="start" >近接開關接頭B</text>
<text class="cj" x="1675.7" y="1076.5" font-size="64" font-weight="400" text-anchor="start" letter-spacing="1.61" >9/16-18UNF-2A</text>
<text class="cj" x="1850.6" y="1161.8" font-size="62.4" font-weight="350" text-anchor="start" >鬆開</text>
<text class="cj" x="1681.1" y="1248.3" font-size="64" font-weight="400" text-anchor="start" letter-spacing="1.61" >9/16-18UNF-2A</text>
<text class="cj" x="1857.0" y="1333.8" font-size="62" font-weight="350" text-anchor="start" >鎖緊</text>
</g>
<g id="plate" style="opacity:.999">
<rect x="702.9" y="1204.4" width="192.6" height="60.6" rx="4.5" stroke-width="2.6" fill="#fff"/>
<path d="M739.90 1207.91 L763.11 1220.75 L763.11 1225.15 L756.78 1234.29 L756.78 1239.40 L762.76 1242.74 L762.76 1247.13 L754.50 1251.88 L750.45 1249.24 L748.16 1255.75 L739.90 1260.15 L731.98 1255.58 L731.98 1249.24 L725.65 1252.06 L717.21 1247.13 L717.21 1220.75 Z" stroke-width="1.9" fill="none" />
<path d="M720.90 1220.75 L739.90 1210.55 L758.89 1221.10" stroke-width="1.5" fill="none" />
<path d="M720.90 1220.75 L725.48 1222.86 L731.81 1219.70 L734.62 1220.75 L735.50 1222.51 L735.68 1229.19 L739.90 1231.30 L744.82 1229.19 L744.82 1221.46 L747.81 1219.70 L755.02 1222.51 L758.89 1221.10" stroke-width="1.7" fill="none" />
<path d="M719.85 1223.57 L719.85 1244.67 L724.42 1247.13 L724.42 1230.60" stroke-width="1.7" fill="none" />
<path d="M719.85 1223.57 L725.48 1226.73 L730.75 1239.40 L736.03 1236.58 L736.03 1253.46 L739.19 1255.22" stroke-width="1.8" fill="none" />
<path d="M724.42 1230.60 L726.53 1231.66 L730.75 1239.40" stroke-width="1.4" fill="none" />
<path d="M739.19 1233.77 L739.19 1255.22" stroke-width="1.8" fill="none" />
<path d="M740.60 1233.77 L740.60 1255.58" stroke-width="1.2" fill="none" stroke="#666"/>
<path d="M730.75 1239.40 L739.90 1233.77 L743.77 1232.36" stroke-width="1.5" fill="none" />
<path d="M743.77 1232.36 L744.82 1243.26 L758.54 1223.92" stroke-width="2.2" fill="none" />
<path d="M755.37 1222.51 L758.54 1223.92" stroke-width="1.5" fill="none" />
<path d="M751.51 1238.34 L758.89 1242.56 L755.02 1245.37 L749.75 1245.02 L741.66 1255.22" stroke-width="1.7" fill="none" />
<path d="M758.89 1242.56 L762.76 1242.74" stroke-width="1.3" fill="none" />
<text class="cj" x="778.0" y="1220.6" font-size="10.6" font-weight="900" text-anchor="start" textLength="96.5" lengthAdjust="spacingAndGlyphs" style="stroke:#000;stroke-width:.45px">昆坤機械有限公司</text>
<text class="la" x="778.0" y="1229.9" font-size="8.2" font-weight="700" text-anchor="start" textLength="97.5" lengthAdjust="spacingAndGlyphs" style="stroke:#000;stroke-width:.4px">MYKUN MACHINERY CO.,LTD</text>
<text class="cj" x="778.0" y="1243.8" font-size="8.4" font-weight="900" text-anchor="start" textLength="38" lengthAdjust="spacingAndGlyphs" style="stroke:#000;stroke-width:.6px">出廠編號：</text>
<text class="cj" x="778.0" y="1256.3" font-size="8.4" font-weight="900" text-anchor="start" textLength="38" lengthAdjust="spacingAndGlyphs" style="stroke:#000;stroke-width:.6px">製造日期：</text>
<rect x="816.3" y="1236.8" width="59.4" height="7.3" rx="0" stroke-width="1.4" fill="none"/>
<rect x="816.3" y="1249.2" width="59.4" height="7.1" rx="0" stroke-width="1.4" fill="none"/>
</g>
</svg>
</body></html>
